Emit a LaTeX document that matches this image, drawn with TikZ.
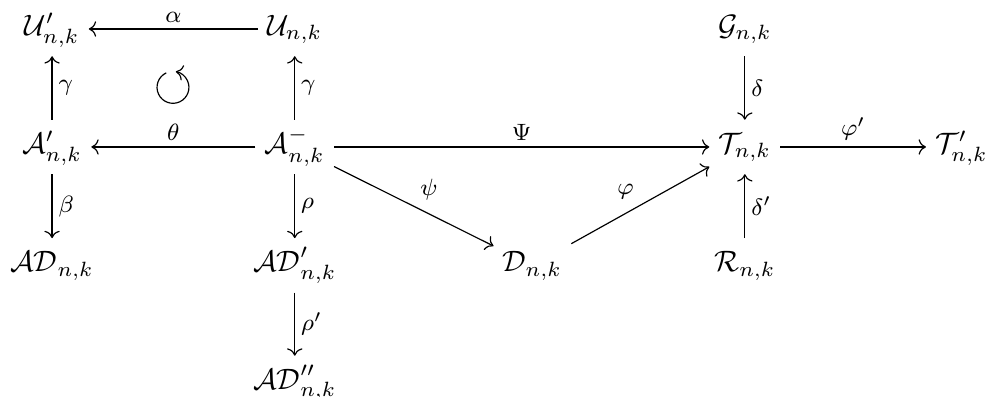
\documentclass[tikz,border=0pt]{standalone}
\usepackage{amsmath,amssymb}
\usetikzlibrary{arrows.meta}

\begin{document}
\begin{tikzpicture}[
  obj/.style={inner sep=3pt, text height=1.9ex, text depth=0.9ex},
  lab/.style={font=\footnotesize, inner sep=2pt},
  arr/.style={-{Computer Modern Rightarrow}, line width=0.4pt}]
\useasboundingbox (0,0) rectangle (11.73,-4.72);
% objects, row by row
\node[obj] (Up) at (0.62,-0.345) {$\mathcal{U}'_{n,k}$};
\node[obj] (U) at (3.51,-0.345) {$\mathcal{U}_{n,k}$};
\node[obj] (G) at (8.87,-0.345) {$\mathcal{G}_{n,k}$};
\node[obj] (Ap) at (0.62,-1.75) {$\mathcal{A}'_{n,k}$};
\node[obj] (Am) at (3.51,-1.75) {$\mathcal{A}^-_{n,k}$};
\node[obj] (T) at (8.87,-1.75) {$\mathcal{T}_{n,k}$};
\node[obj] (Tp) at (11.45,-1.75) {$\mathcal{T}'_{n,k}$};
\node[obj] (AD) at (0.62,-3.16) {$\mathcal{AD}_{n,k}$};
\node[obj] (ADp) at (3.51,-3.16) {$\mathcal{AD}'_{n,k}$};
\node[obj] (D) at (6.34,-3.16) {$\mathcal{D}_{n,k}$};
\node[obj] (R) at (8.87,-3.16) {$\mathcal{R}_{n,k}$};
\node[obj] (ADpp) at (3.51,-4.56) {$\mathcal{AD}''_{n,k}$};
% maps
\draw[arr] (U) -- node[lab, above] {$\alpha$} (Up);
\draw[arr] (Ap) -- node[lab, right] {$\gamma$} (Up);
\draw[arr] (Am) -- node[lab, right] {$\gamma$} (U);
\draw[arr] (Am) -- node[lab, above] {$\theta$} (Ap);
\draw[arr] (Ap) -- node[lab, right] {$\beta$} (AD);
\draw[arr] (Am) -- node[lab, right] {$\rho$} (ADp);
\draw[arr] (ADp) -- node[lab, right] {$\rho'$} (ADpp);
\draw[arr] (Am) -- node[lab, above] {$\Psi$} (T);
\draw[arr] (Am) -- node[lab, above right] {$\psi$} (D);
\draw[arr] (D) -- node[lab, above left] {$\varphi$} (T);
\draw[arr] (G) -- node[lab, right] {$\delta$} (T);
\draw[arr] (R) -- node[lab, right] {$\delta'$} (T);
\draw[arr] (T) -- node[lab, above] {$\varphi'$} (Tp);
% commutativity mark
\coordinate (cyc) at (2.06,-1.04);
\draw[arr] (cyc) ++(115:0.19) arc[start angle=115, end angle=440, radius=0.19];
\end{tikzpicture}
\end{document}
